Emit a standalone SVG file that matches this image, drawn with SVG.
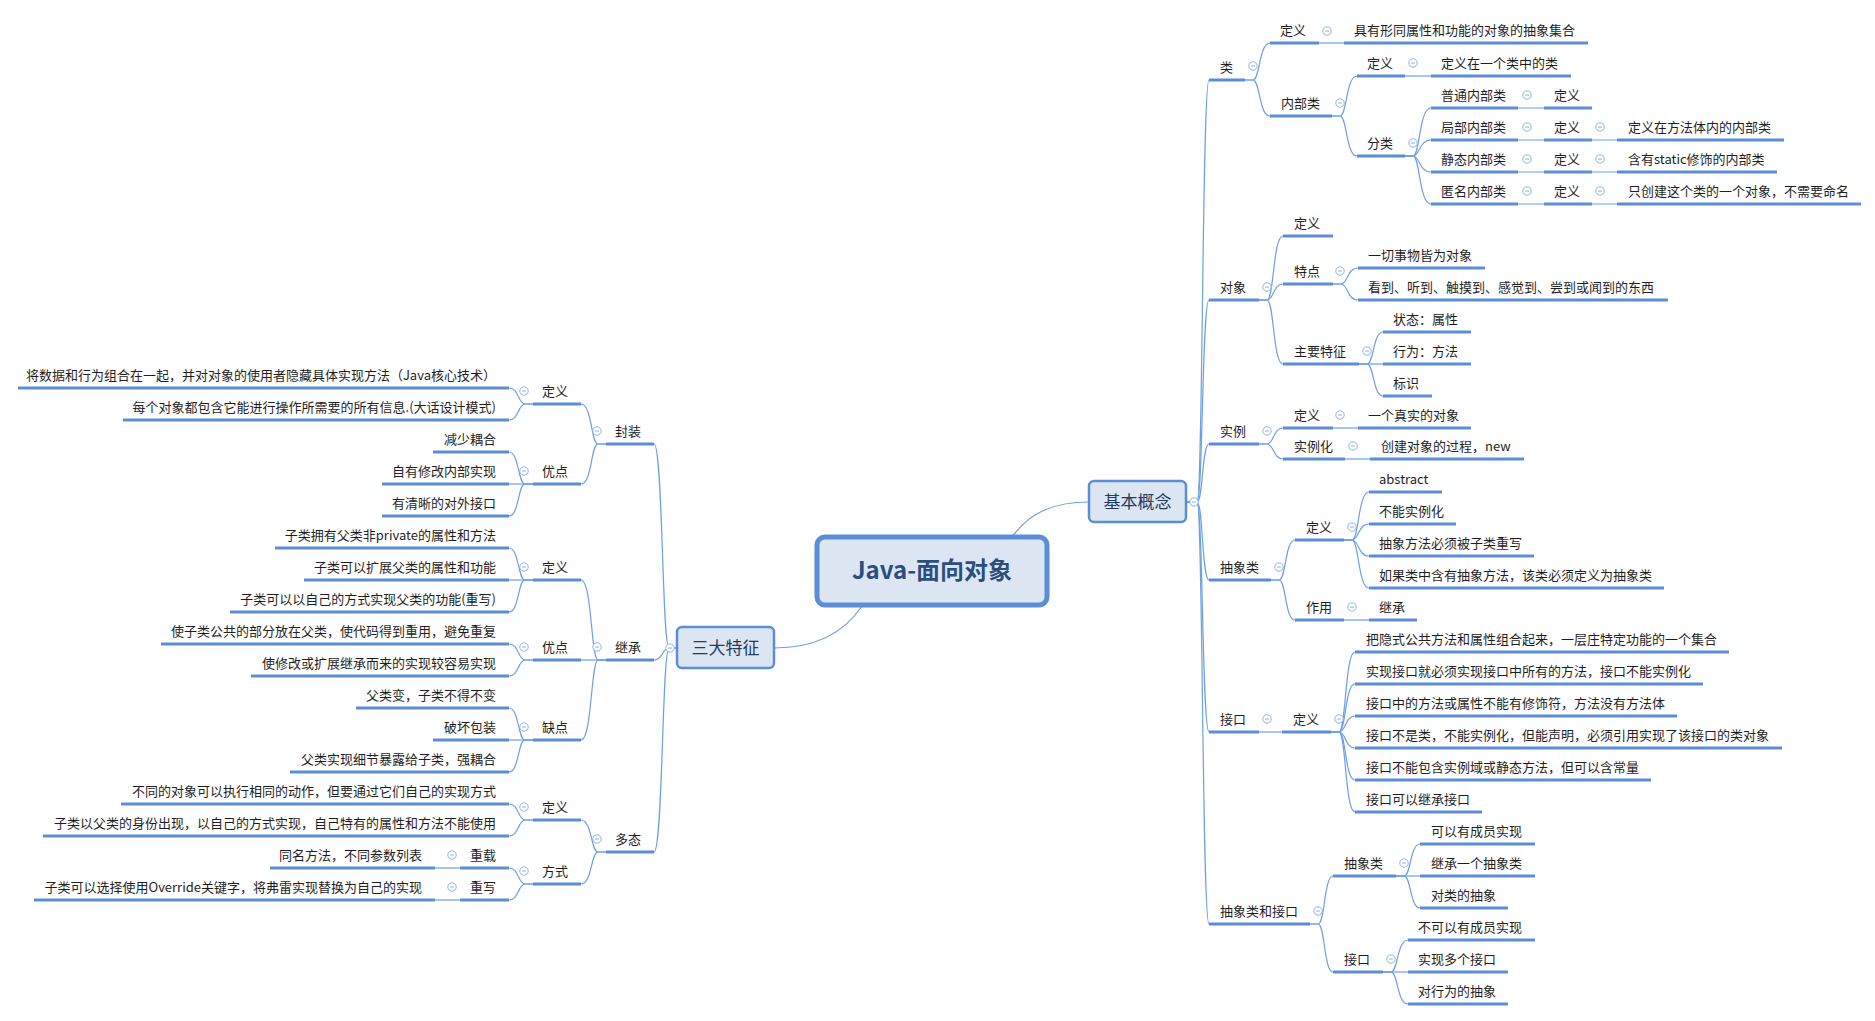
<svg xmlns="http://www.w3.org/2000/svg" xmlns:xlink="http://www.w3.org/1999/xlink" width="1875" height="1021" viewBox="0 0 1875 1021">
<style>
text{font-family:"Noto Sans CJK SC","Liberation Sans",sans-serif;font-size:13px;fill:#1e1e1e}
.l{text-anchor:end}
.u{stroke:#5b8ed7;stroke-width:3;fill:none}
.c{stroke:#6f9fe2;stroke-width:1.2;fill:none}
.box{fill:#dce6f2;stroke:#5b8ed7;stroke-width:2.5}
.bt{font-size:17px;fill:#1f3a63;text-anchor:middle}
</style>
<defs>
<g id="col"><circle r="4.2" fill="#fff" stroke="#8fb1e6" stroke-width="1"/><line x1="-2" y1="0" x2="2" y2="0" stroke="#8fb1e6" stroke-width="1"/></g>
</defs>
<rect width="1875" height="1021" fill="#fff"/>
<g id="connectors">
<path class="c" d="M1012 537C1028 515 1050 502 1089 502"/>
<path class="c" d="M862 606C846 630 820 648 774 648"/>
<path class="c" d="M1186 502H1197C1203 502 1202 80 1209 80"/>
<path class="c" d="M1186 502H1197C1203 502 1202 300 1209 300"/>
<path class="c" d="M1186 502H1197C1203 502 1202 444 1209 444"/>
<path class="c" d="M1186 502H1197C1203 502 1202 580 1209 580"/>
<path class="c" d="M1186 502H1197C1203 502 1202 732 1209 732"/>
<path class="c" d="M1186 502H1197C1203 502 1202 924 1209 924"/>
<path class="c" d="M1245 80H1253C1260 80 1259 43 1270 43"/>
<path class="c" d="M1245 80H1253C1260 80 1259 116 1270 116"/>
<path class="c" d="M1319 43H1344"/>
<path class="c" d="M1332 116H1340C1347 116 1346 76 1357 76"/>
<path class="c" d="M1332 116H1340C1347 116 1346 156 1357 156"/>
<path class="c" d="M1405 76H1431"/>
<path class="c" d="M1405 156H1413C1420 156 1419 108 1431 108"/>
<path class="c" d="M1405 156H1413C1420 156 1419 140 1431 140"/>
<path class="c" d="M1405 156H1413C1420 156 1419 172 1431 172"/>
<path class="c" d="M1405 156H1413C1420 156 1419 204 1431 204"/>
<path class="c" d="M1518 108H1544M1518 140H1544M1518 172H1544M1518 204H1544"/>
<path class="c" d="M1592 140H1617M1592 172H1617M1592 204H1617"/>
<path class="c" d="M1259 300H1267C1274 300 1273 236 1283 236"/>
<path class="c" d="M1259 300H1267C1274 300 1273 284 1283 284"/>
<path class="c" d="M1259 300H1267C1274 300 1273 364 1283 364"/>
<path class="c" d="M1333 284H1341C1348 284 1347 268 1358 268"/>
<path class="c" d="M1333 284H1341C1348 284 1347 300 1358 300"/>
<path class="c" d="M1359 364H1367C1374 364 1373 332 1383 332"/>
<path class="c" d="M1359 364H1383"/>
<path class="c" d="M1359 364H1367C1374 364 1373 396 1383 396"/>
<path class="c" d="M1259 444H1267C1274 444 1273 428 1283 428"/>
<path class="c" d="M1259 444H1267C1274 444 1273 459 1283 459"/>
<path class="c" d="M1333 428H1358"/>
<path class="c" d="M1345 459H1370"/>
<path class="c" d="M1271 580H1279C1286 580 1285 540 1295 540"/>
<path class="c" d="M1271 580H1279C1286 580 1285 620 1295 620"/>
<path class="c" d="M1344 540H1352C1359 540 1358 492 1369 492"/>
<path class="c" d="M1344 540H1352C1359 540 1358 524 1369 524"/>
<path class="c" d="M1344 540H1352C1359 540 1358 556 1369 556"/>
<path class="c" d="M1344 540H1352C1359 540 1358 588 1369 588"/>
<path class="c" d="M1344 620H1369"/>
<path class="c" d="M1259 732H1282"/>
<path class="c" d="M1331 732H1339C1346 732 1345 652 1355 652"/>
<path class="c" d="M1331 732H1339C1346 732 1345 684 1355 684"/>
<path class="c" d="M1331 732H1339C1346 732 1345 716 1355 716"/>
<path class="c" d="M1331 732H1339C1346 732 1345 748 1355 748"/>
<path class="c" d="M1331 732H1339C1346 732 1345 780 1355 780"/>
<path class="c" d="M1331 732H1339C1346 732 1345 812 1355 812"/>
<path class="c" d="M1310 924H1318C1325 924 1324 876 1333 876"/>
<path class="c" d="M1310 924H1318C1325 924 1324 972 1333 972"/>
<path class="c" d="M1396 876H1404C1411 876 1410 844 1420 844"/>
<path class="c" d="M1396 876H1420"/>
<path class="c" d="M1396 876H1404C1411 876 1410 908 1420 908"/>
<path class="c" d="M1383 972H1391C1398 972 1397 940 1408 940"/>
<path class="c" d="M1383 972H1408"/>
<path class="c" d="M1383 972H1391C1398 972 1397 1004 1408 1004"/>
<path class="c" d="M677 648H669C662 648 663 444 654 444"/>
<path class="c" d="M677 648H669C662 648 663 660 654 660"/>
<path class="c" d="M677 648H669C662 648 663 852 654 852"/>
<path class="c" d="M606 444H598C591 444 592 404 581 404"/>
<path class="c" d="M606 444H598C591 444 592 484 581 484"/>
<path class="c" d="M533 404H525C518 404 519 388 509 388"/>
<path class="c" d="M533 404H525C518 404 519 420 509 420"/>
<path class="c" d="M533 484H525C518 484 519 452 509 452"/>
<path class="c" d="M533 484H509"/>
<path class="c" d="M533 484H525C518 484 519 516 509 516"/>
<path class="c" d="M606 660H598C591 660 592 580 581 580"/>
<path class="c" d="M606 660H581"/>
<path class="c" d="M606 660H598C591 660 592 740 581 740"/>
<path class="c" d="M533 580H525C518 580 519 548 509 548"/>
<path class="c" d="M533 580H509"/>
<path class="c" d="M533 580H525C518 580 519 612 509 612"/>
<path class="c" d="M533 660H525C518 660 519 644 509 644"/>
<path class="c" d="M533 660H525C518 660 519 676 509 676"/>
<path class="c" d="M533 740H525C518 740 519 708 509 708"/>
<path class="c" d="M533 740H509"/>
<path class="c" d="M533 740H525C518 740 519 772 509 772"/>
<path class="c" d="M606 852H598C591 852 592 820 581 820"/>
<path class="c" d="M606 852H598C591 852 592 884 581 884"/>
<path class="c" d="M533 820H525C518 820 519 804 509 804"/>
<path class="c" d="M533 820H525C518 820 519 836 509 836"/>
<path class="c" d="M533 884H525C518 884 519 868 509 868"/>
<path class="c" d="M533 884H525C518 884 519 900 509 900"/>
<path class="c" d="M460 868H435"/>
<path class="c" d="M460 900H435"/>
</g>
<g id="root">
<rect x="817" y="537" width="230" height="68" rx="8" fill="#dce6f2" stroke="#5b8ed7" stroke-width="5"/>
<text x="932" y="579" style="font-size:24px;font-weight:bold;fill:#2c4e7e;text-anchor:middle">Java-面向对象</text>
</g>
<g id="n-jbgn"><rect class="box" x="1089" y="481" width="97" height="41" rx="5"/><text class="bt" x="1137.5" y="508">基本概念</text><use href="#col" x="1194" y="502"/></g>
<g id="n-sdtz"><rect class="box" x="677" y="627" width="97" height="41" rx="5"/><text class="bt" x="725.5" y="654">三大特征</text><use href="#col" x="670" y="648"/></g>

<g id="n-lei"><line class="u" x1="1209" y1="80" x2="1245" y2="80"/><text x="1220" y="72">类</text><use href="#col" x="1253" y="66"/></g>
<g id="n-lei-dy"><line class="u" x1="1270" y1="43" x2="1319" y2="43"/><text x="1280" y="35">定义</text><use href="#col" x="1327" y="31"/></g>
<g id="n-lei-dy-1"><line class="u" x1="1344" y1="43" x2="1588" y2="43"/><text x="1354" y="35">具有形同属性和功能的对象的抽象集合</text></g>
<g id="n-nbl"><line class="u" x1="1270" y1="116" x2="1332" y2="116"/><text x="1281" y="108">内部类</text><use href="#col" x="1340" y="103"/></g>
<g id="n-nbl-dy"><line class="u" x1="1357" y1="76" x2="1405" y2="76"/><text x="1367" y="68">定义</text><use href="#col" x="1413" y="63"/></g>
<g id="n-nbl-dy-1"><line class="u" x1="1431" y1="76" x2="1571" y2="76"/><text x="1441" y="68">定义在一个类中的类</text></g>
<g id="n-fl"><line class="u" x1="1357" y1="156" x2="1405" y2="156"/><text x="1367" y="148">分类</text><use href="#col" x="1413" y="143"/></g>
<g id="n-pt"><line class="u" x1="1431" y1="108" x2="1518" y2="108"/><text x="1441" y="100">普通内部类</text><use href="#col" x="1527" y="95"/></g>
<g id="n-pt-dy"><line class="u" x1="1544" y1="108" x2="1592" y2="108"/><text x="1554" y="100">定义</text></g>
<g id="n-jb"><line class="u" x1="1431" y1="140" x2="1518" y2="140"/><text x="1441" y="132">局部内部类</text><use href="#col" x="1527" y="127"/></g>
<g id="n-jb-dy"><line class="u" x1="1544" y1="140" x2="1592" y2="140"/><text x="1554" y="132">定义</text><use href="#col" x="1600" y="127"/></g>
<g id="n-jb-dy-1"><line class="u" x1="1617" y1="140" x2="1784" y2="140"/><text x="1628" y="132">定义在方法体内的内部类</text></g>
<g id="n-jt"><line class="u" x1="1431" y1="172" x2="1518" y2="172"/><text x="1441" y="164">静态内部类</text><use href="#col" x="1527" y="159"/></g>
<g id="n-jt-dy"><line class="u" x1="1544" y1="172" x2="1592" y2="172"/><text x="1554" y="164">定义</text><use href="#col" x="1600" y="159"/></g>
<g id="n-jt-dy-1"><line class="u" x1="1617" y1="172" x2="1777" y2="172"/><text x="1628" y="164">含有static修饰的内部类</text></g>
<g id="n-nm"><line class="u" x1="1431" y1="204" x2="1518" y2="204"/><text x="1441" y="196">匿名内部类</text><use href="#col" x="1527" y="191"/></g>
<g id="n-nm-dy"><line class="u" x1="1544" y1="204" x2="1592" y2="204"/><text x="1554" y="196">定义</text><use href="#col" x="1600" y="191"/></g>
<g id="n-nm-dy-1"><line class="u" x1="1617" y1="204" x2="1861" y2="204"/><text x="1628" y="196">只创建这个类的一个对象，不需要命名</text></g>

<g id="n-dx"><line class="u" x1="1209" y1="300" x2="1259" y2="300"/><text x="1220" y="292">对象</text><use href="#col" x="1267" y="287"/></g>
<g id="n-dx-dy"><line class="u" x1="1283" y1="236" x2="1333" y2="236"/><text x="1294" y="228">定义</text></g>
<g id="n-dx-td"><line class="u" x1="1283" y1="284" x2="1333" y2="284"/><text x="1294" y="276">特点</text><use href="#col" x="1340" y="271"/></g>
<g id="n-dx-td-1"><line class="u" x1="1358" y1="268" x2="1485" y2="268"/><text x="1368" y="260">一切事物皆为对象</text></g>
<g id="n-dx-td-2"><line class="u" x1="1358" y1="300" x2="1668" y2="300"/><text x="1368" y="292">看到、听到、触摸到、感觉到、尝到或闻到的东西</text></g>
<g id="n-dx-zy"><line class="u" x1="1283" y1="364" x2="1359" y2="364"/><text x="1294" y="356">主要特征</text><use href="#col" x="1367" y="351"/></g>
<g id="n-dx-zy-1"><line class="u" x1="1383" y1="332" x2="1471" y2="332"/><text x="1393" y="324">状态：属性</text></g>
<g id="n-dx-zy-2"><line class="u" x1="1383" y1="364" x2="1471" y2="364"/><text x="1393" y="356">行为：方法</text></g>
<g id="n-dx-zy-3"><line class="u" x1="1383" y1="396" x2="1432" y2="396"/><text x="1393" y="388">标识</text></g>

<g id="n-sl"><line class="u" x1="1209" y1="444" x2="1259" y2="444"/><text x="1220" y="436">实例</text><use href="#col" x="1267" y="431"/></g>
<g id="n-sl-dy"><line class="u" x1="1283" y1="428" x2="1333" y2="428"/><text x="1294" y="420">定义</text><use href="#col" x="1340" y="415"/></g>
<g id="n-sl-dy-1"><line class="u" x1="1358" y1="428" x2="1471" y2="428"/><text x="1368" y="420">一个真实的对象</text></g>
<g id="n-slh"><line class="u" x1="1283" y1="459" x2="1345" y2="459"/><text x="1294" y="451">实例化</text><use href="#col" x="1353" y="446"/></g>
<g id="n-slh-1"><line class="u" x1="1370" y1="459" x2="1524" y2="459"/><text x="1381" y="451">创建对象的过程，new</text></g>

<g id="n-cxl"><line class="u" x1="1209" y1="580" x2="1271" y2="580"/><text x="1220" y="572">抽象类</text><use href="#col" x="1279" y="567"/></g>
<g id="n-cxl-dy"><line class="u" x1="1295" y1="540" x2="1344" y2="540"/><text x="1306" y="532">定义</text><use href="#col" x="1352" y="527"/></g>
<g id="n-cxl-dy-1"><line class="u" x1="1369" y1="492" x2="1442" y2="492"/><text x="1379" y="484">abstract</text></g>
<g id="n-cxl-dy-2"><line class="u" x1="1369" y1="524" x2="1456" y2="524"/><text x="1379" y="516">不能实例化</text></g>
<g id="n-cxl-dy-3"><line class="u" x1="1369" y1="556" x2="1534" y2="556"/><text x="1379" y="548">抽象方法必须被子类重写</text></g>
<g id="n-cxl-dy-4"><line class="u" x1="1369" y1="588" x2="1664" y2="588"/><text x="1379" y="580">如果类中含有抽象方法，该类必须定义为抽象类</text></g>
<g id="n-cxl-zy"><line class="u" x1="1295" y1="620" x2="1344" y2="620"/><text x="1306" y="612">作用</text><use href="#col" x="1352" y="607"/></g>
<g id="n-cxl-zy-1"><line class="u" x1="1369" y1="620" x2="1417" y2="620"/><text x="1379" y="612">继承</text></g>

<g id="n-jk"><line class="u" x1="1209" y1="732" x2="1259" y2="732"/><text x="1220" y="724">接口</text><use href="#col" x="1267" y="719"/></g>
<g id="n-jk-dy"><line class="u" x1="1282" y1="732" x2="1331" y2="732"/><text x="1293" y="724">定义</text><use href="#col" x="1339" y="719"/></g>
<g id="n-jk-dy-1"><line class="u" x1="1355" y1="652" x2="1729" y2="652"/><text x="1366" y="644">把隐式公共方法和属性组合起来，一层庄特定功能的一个集合</text></g>
<g id="n-jk-dy-2"><line class="u" x1="1355" y1="684" x2="1703" y2="684"/><text x="1366" y="676">实现接口就必须实现接口中所有的方法，接口不能实例化</text></g>
<g id="n-jk-dy-3"><line class="u" x1="1355" y1="716" x2="1677" y2="716"/><text x="1366" y="708">接口中的方法或属性不能有修饰符，方法没有方法体</text></g>
<g id="n-jk-dy-4"><line class="u" x1="1355" y1="748" x2="1782" y2="748"/><text x="1366" y="740">接口不是类，不能实例化，但能声明，必须引用实现了该接口的类对象</text></g>
<g id="n-jk-dy-5"><line class="u" x1="1355" y1="780" x2="1651" y2="780"/><text x="1366" y="772">接口不能包含实例域或静态方法，但可以含常量</text></g>
<g id="n-jk-dy-6"><line class="u" x1="1355" y1="812" x2="1482" y2="812"/><text x="1366" y="804">接口可以继承接口</text></g>

<g id="n-cj"><line class="u" x1="1209" y1="924" x2="1310" y2="924"/><text x="1220" y="916">抽象类和接口</text><use href="#col" x="1318" y="911"/></g>
<g id="n-cj-cxl"><line class="u" x1="1333" y1="876" x2="1396" y2="876"/><text x="1344" y="868">抽象类</text><use href="#col" x="1404" y="863"/></g>
<g id="n-cj-cxl-1"><line class="u" x1="1420" y1="844" x2="1535" y2="844"/><text x="1431" y="836">可以有成员实现</text></g>
<g id="n-cj-cxl-2"><line class="u" x1="1420" y1="876" x2="1535" y2="876"/><text x="1431" y="868">继承一个抽象类</text></g>
<g id="n-cj-cxl-3"><line class="u" x1="1420" y1="908" x2="1508" y2="908"/><text x="1431" y="900">对类的抽象</text></g>
<g id="n-cj-jk"><line class="u" x1="1333" y1="972" x2="1383" y2="972"/><text x="1344" y="964">接口</text><use href="#col" x="1391" y="959"/></g>
<g id="n-cj-jk-1"><line class="u" x1="1408" y1="940" x2="1535" y2="940"/><text x="1418" y="932">不可以有成员实现</text></g>
<g id="n-cj-jk-2"><line class="u" x1="1408" y1="972" x2="1508" y2="972"/><text x="1418" y="964">实现多个接口</text></g>
<g id="n-cj-jk-3"><line class="u" x1="1408" y1="1004" x2="1508" y2="1004"/><text x="1418" y="996">对行为的抽象</text></g>

<g id="n-fz"><line class="u" x1="606" y1="444" x2="654" y2="444"/><text class="l" x="641" y="436">封装</text><use href="#col" x="597" y="431"/></g>
<g id="n-fz-dy"><line class="u" x1="533" y1="404" x2="581" y2="404"/><text class="l" x="568" y="396">定义</text><use href="#col" x="524" y="391"/></g>
<g id="n-fz-dy-1"><line class="u" x1="18" y1="388" x2="509" y2="388"/><text class="l" x="496" y="380">将数据和行为组合在一起，并对对象的使用者隐藏具体实现方法（Java核心技术）</text></g>
<g id="n-fz-dy-2"><line class="u" x1="123" y1="420" x2="509" y2="420"/><text class="l" x="496" y="412">每个对象都包含它能进行操作所需要的所有信息.(大话设计模式)</text></g>
<g id="n-fz-yd"><line class="u" x1="533" y1="484" x2="581" y2="484"/><text class="l" x="568" y="476">优点</text><use href="#col" x="524" y="471"/></g>
<g id="n-fz-yd-1"><line class="u" x1="433" y1="452" x2="509" y2="452"/><text class="l" x="496" y="444">减少耦合</text></g>
<g id="n-fz-yd-2"><line class="u" x1="382" y1="484" x2="509" y2="484"/><text class="l" x="496" y="476">自有修改内部实现</text></g>
<g id="n-fz-yd-3"><line class="u" x1="382" y1="516" x2="509" y2="516"/><text class="l" x="496" y="508">有清晰的对外接口</text></g>

<g id="n-jc"><line class="u" x1="606" y1="660" x2="654" y2="660"/><text class="l" x="641" y="652">继承</text><use href="#col" x="597" y="647"/></g>
<g id="n-jc-dy"><line class="u" x1="533" y1="580" x2="581" y2="580"/><text class="l" x="568" y="572">定义</text><use href="#col" x="524" y="567"/></g>
<g id="n-jc-dy-1"><line class="u" x1="275" y1="548" x2="509" y2="548"/><text class="l" x="496" y="540">子类拥有父类非private的属性和方法</text></g>
<g id="n-jc-dy-2"><line class="u" x1="304" y1="580" x2="509" y2="580"/><text class="l" x="496" y="572">子类可以扩展父类的属性和功能</text></g>
<g id="n-jc-dy-3"><line class="u" x1="230" y1="612" x2="509" y2="612"/><text class="l" x="496" y="604">子类可以以自己的方式实现父类的功能(重写)</text></g>
<g id="n-jc-yd"><line class="u" x1="533" y1="660" x2="581" y2="660"/><text class="l" x="568" y="652">优点</text><use href="#col" x="524" y="647"/></g>
<g id="n-jc-yd-1"><line class="u" x1="161" y1="644" x2="509" y2="644"/><text class="l" x="496" y="636">使子类公共的部分放在父类，使代码得到重用，避免重复</text></g>
<g id="n-jc-yd-2"><line class="u" x1="251" y1="676" x2="509" y2="676"/><text class="l" x="496" y="668">使修改或扩展继承而来的实现较容易实现</text></g>
<g id="n-jc-qd"><line class="u" x1="533" y1="740" x2="581" y2="740"/><text class="l" x="568" y="732">缺点</text><use href="#col" x="524" y="727"/></g>
<g id="n-jc-qd-1"><line class="u" x1="356" y1="708" x2="509" y2="708"/><text class="l" x="496" y="700">父类变，子类不得不变</text></g>
<g id="n-jc-qd-2"><line class="u" x1="433" y1="740" x2="509" y2="740"/><text class="l" x="496" y="732">破坏包装</text></g>
<g id="n-jc-qd-3"><line class="u" x1="290" y1="772" x2="509" y2="772"/><text class="l" x="496" y="764">父类实现细节暴露给子类，强耦合</text></g>

<g id="n-dt"><line class="u" x1="606" y1="852" x2="654" y2="852"/><text class="l" x="641" y="844">多态</text><use href="#col" x="597" y="839"/></g>
<g id="n-dt-dy"><line class="u" x1="533" y1="820" x2="581" y2="820"/><text class="l" x="568" y="812">定义</text><use href="#col" x="524" y="807"/></g>
<g id="n-dt-dy-1"><line class="u" x1="121" y1="804" x2="509" y2="804"/><text class="l" x="496" y="796">不同的对象可以执行相同的动作，但要通过它们自己的实现方式</text></g>
<g id="n-dt-dy-2"><line class="u" x1="43" y1="836" x2="509" y2="836"/><text class="l" x="496" y="828">子类以父类的身份出现，以自己的方式实现，自己特有的属性和方法不能使用</text></g>
<g id="n-dt-fs"><line class="u" x1="533" y1="884" x2="581" y2="884"/><text class="l" x="568" y="876">方式</text><use href="#col" x="524" y="871"/></g>
<g id="n-dt-cz"><line class="u" x1="460" y1="868" x2="509" y2="868"/><text class="l" x="496" y="860">重载</text><use href="#col" x="452" y="855"/></g>
<g id="n-dt-cz-1"><line class="u" x1="270" y1="868" x2="435" y2="868"/><text class="l" x="422" y="860">同名方法，不同参数列表</text></g>
<g id="n-dt-cx"><line class="u" x1="460" y1="900" x2="509" y2="900"/><text class="l" x="496" y="892">重写</text><use href="#col" x="452" y="887"/></g>
<g id="n-dt-cx-1"><line class="u" x1="34" y1="900" x2="435" y2="900"/><text class="l" x="422" y="892">子类可以选择使用Override关键字，将弗雷实现替换为自己的实现</text></g>
</svg>
